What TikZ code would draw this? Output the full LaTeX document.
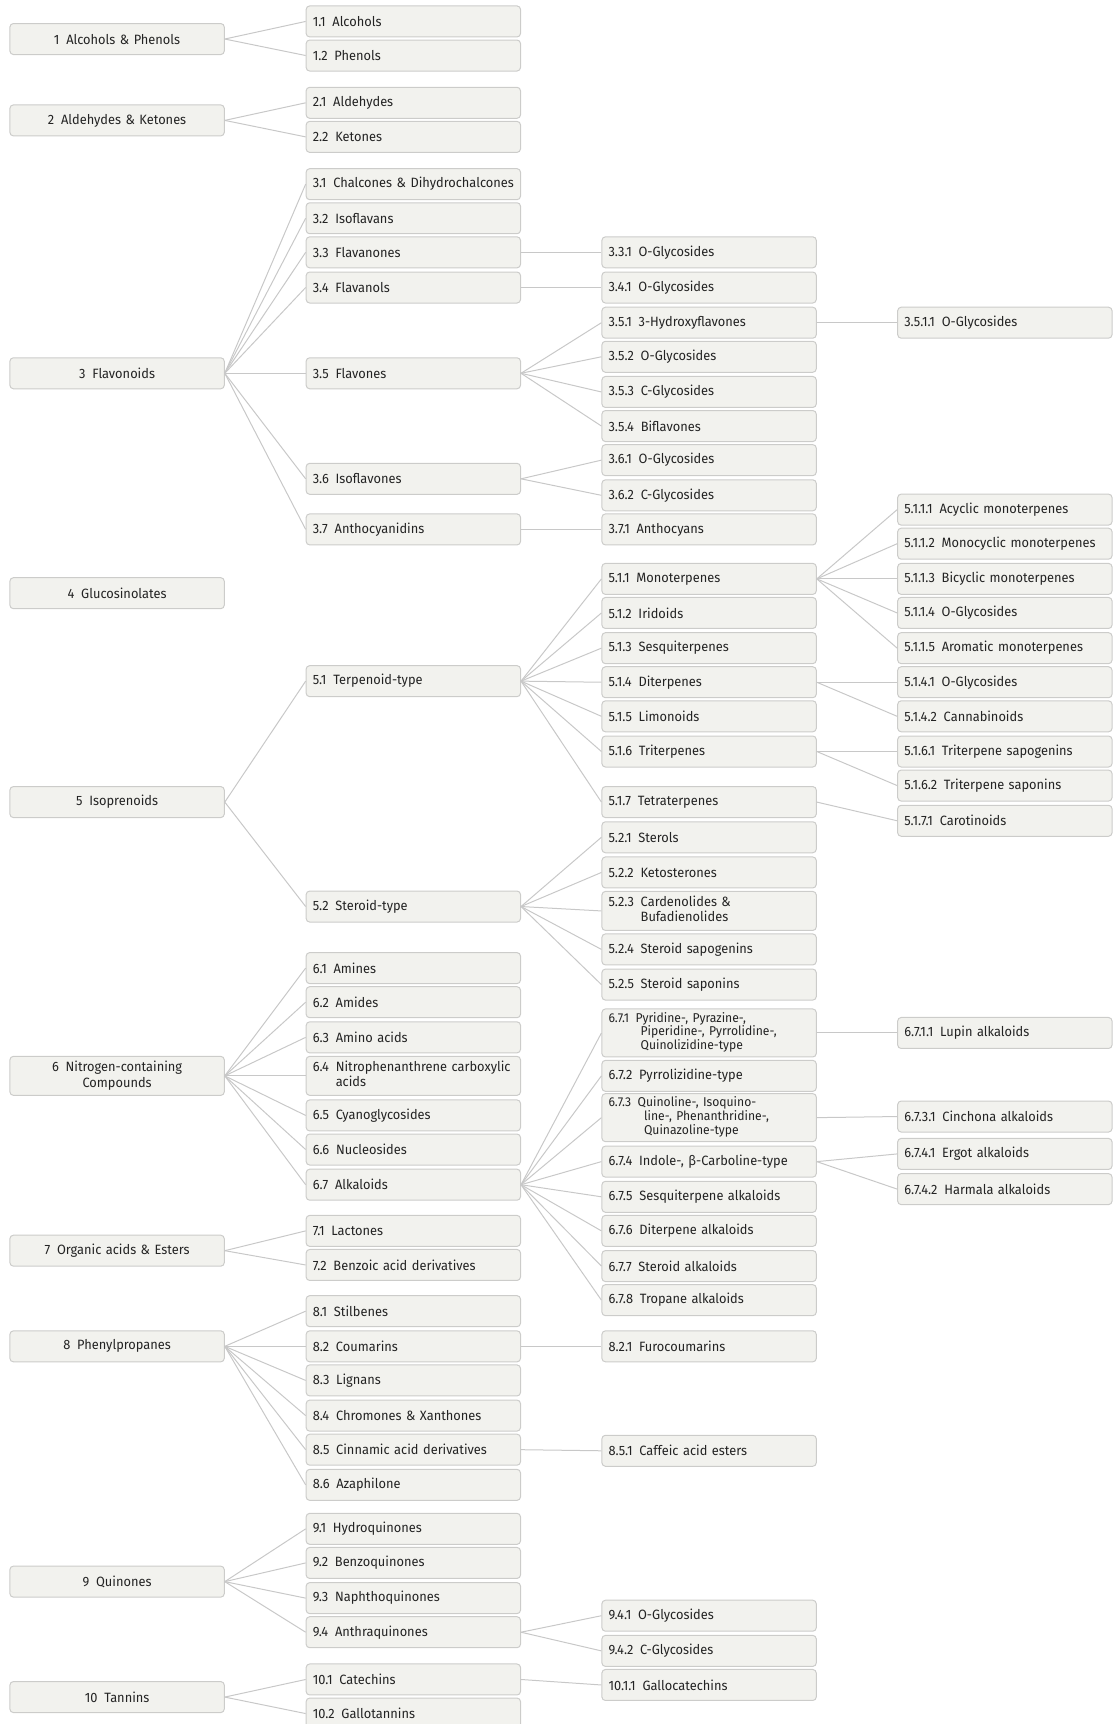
\documentclass[tikz,border=0pt]{standalone}
\usepackage{fontspec}
\setmainfont[FakeStretch=0.95]{Fira Sans}
\definecolor{boxfill}{RGB}{242,242,238}
\definecolor{boxline}{RGB}{204,204,202}
\definecolor{edgecol}{RGB}{200,200,200}
\definecolor{txt}{RGB}{35,35,35}
\newcommand\NB[2]{#1\hspace{0.5em}#2}
\newcommand\NBM[2]{#1\hspace{0.5em}\begin{tabular}[t]{@{}l@{}}#2\end{tabular}}
\hyphenpenalty=10000
\tikzset{
  base/.style={draw=boxline, fill=boxfill, rounded corners=3.5pt, line width=1pt,
    minimum height=31pt, inner ysep=2pt, inner xsep=6.6pt, text=txt,
    text width=201.2pt, font=\fontsize{13.5}{15.4}\selectfont},
  rootbox/.style={base, align=center, anchor=center},
  subbox/.style={base, align=left, anchor=west},
  twol/.style={minimum height=39pt},
  threel/.style={minimum height=48pt, font=\fontsize{12.8}{13.2}\selectfont},
  conn/.style={draw=edgecol, line width=1pt}
}
\begin{document}
\begin{tikzpicture}[x=1.0997pt, y=-1.0997pt]
\useasboundingbox (0,0) rectangle (1013,1568);
\clip (0,0) rectangle (1013,1568);
% column 0
\node[rootbox] (a1) at (106.5,35.5) {\NB{1}{Alcohols \& Phenols}};
\node[rootbox] (a2) at (106.5,109.5) {\NB{2}{Aldehydes \& Ketones}};
\node[rootbox] (a3) at (106.5,339.5) {\NB{3}{Flavonoids}};
\node[rootbox] (a4) at (106.5,539.5) {\NB{4}{Glucosinolates}};
\node[rootbox] (a5) at (106.5,729.5) {\NB{5}{Isoprenoids}};
\node[rootbox, twol] (a6) at (106.5,978.5) {\NB{6}{Nitrogen-containing}\\Compounds};
\node[rootbox] (a7) at (106.5,1137.5) {\NB{7}{Organic acids \& Esters}};
\node[rootbox] (a8) at (106.5,1224.5) {\NB{8}{Phenylpropanes}};
\node[rootbox] (a9) at (106.5,1438.5) {\NB{9}{Quinones}};
\node[rootbox] (a10) at (106.5,1543.5) {\NB{10}{Tannins}};
% column 1
\node[subbox] (b11) at (278,19.5) {\NB{1.1}{Alcohols}};
\node[subbox] (b12) at (278,50.5) {\NB{1.2}{Phenols}};
\node[subbox] (b21) at (278,93.5) {\NB{2.1}{Aldehydes}};
\node[subbox] (b22) at (278,124.5) {\NB{2.2}{Ketones}};
\node[subbox] (b31) at (278,167.5) {\NB{3.1}{Chalcones \& Dihydrochalcones}};
\node[subbox] (b32) at (278,198.5) {\NB{3.2}{Isoflavans}};
\node[subbox] (b33) at (278,229.5) {\NB{3.3}{Flavanones}};
\node[subbox] (b34) at (278,261.5) {\NB{3.4}{Flavanols}};
\node[subbox] (b35) at (278,339.5) {\NB{3.5}{Flavones}};
\node[subbox] (b36) at (278,435.5) {\NB{3.6}{Isoflavones}};
\node[subbox] (b37) at (278,481.5) {\NB{3.7}{Anthocyanidins}};
\node[subbox] (b51) at (278,619.5) {\NB{5.1}{Terpenoid-type}};
\node[subbox] (b52) at (278,824.5) {\NB{5.2}{Steroid-type}};
\node[subbox] (b61) at (278,880.5) {\NB{6.1}{Amines}};
\node[subbox] (b62) at (278,911.5) {\NB{6.2}{Amides}};
\node[subbox] (b63) at (278,943.5) {\NB{6.3}{Amino acids}};
\node[subbox, twol] (b64) at (278,978.5) {\NBM{6.4}{Nitrophenanthrene carboxylic\\acids}};
\node[subbox] (b65) at (278,1014.5) {\NB{6.5}{Cyanoglycosides}};
\node[subbox] (b66) at (278,1045.5) {\NB{6.6}{Nucleosides}};
\node[subbox] (b67) at (278,1077.5) {\NB{6.7}{Alkaloids}};
\node[subbox] (b71) at (278,1119.5) {\NB{7.1}{Lactones}};
\node[subbox] (b72) at (278,1150.5) {\NB{7.2}{Benzoic acid derivatives}};
\node[subbox] (b81) at (278,1192.5) {\NB{8.1}{Stilbenes}};
\node[subbox] (b82) at (278,1224.5) {\NB{8.2}{Coumarins}};
\node[subbox] (b83) at (278,1255.5) {\NB{8.3}{Lignans}};
\node[subbox] (b84) at (278,1287.5) {\NB{8.4}{Chromones \& Xanthones}};
\node[subbox] (b85) at (278,1318.5) {\NB{8.5}{Cinnamic acid derivatives}};
\node[subbox] (b86) at (278,1350.5) {\NB{8.6}{Azaphilone}};
\node[subbox] (b91) at (278,1390.5) {\NB{9.1}{Hydroquinones}};
\node[subbox] (b92) at (278,1421.5) {\NB{9.2}{Benzoquinones}};
\node[subbox] (b93) at (278,1453.5) {\NB{9.3}{Naphthoquinones}};
\node[subbox] (b94) at (278,1484.5) {\NB{9.4}{Anthraquinones}};
\node[subbox] (b101) at (278,1527.5) {\NB{10.1}{Catechins}};
\node[subbox] (b102) at (278,1558.5) {\NB{10.2}{Gallotannins}};
% column 2
\node[subbox] (c331) at (547,229.5) {\NB{3.3.1}{O-Glycosides}};
\node[subbox] (c341) at (547,261.5) {\NB{3.4.1}{O-Glycosides}};
\node[subbox] (c351) at (547,293.5) {\NB{3.5.1}{3-Hydroxyflavones}};
\node[subbox] (c352) at (547,324.5) {\NB{3.5.2}{O-Glycosides}};
\node[subbox] (c353) at (547,356.5) {\NB{3.5.3}{C-Glycosides}};
\node[subbox] (c354) at (547,387.5) {\NB{3.5.4}{Biflavones}};
\node[subbox] (c361) at (547,418.5) {\NB{3.6.1}{O-Glycosides}};
\node[subbox] (c362) at (547,450.5) {\NB{3.6.2}{C-Glycosides}};
\node[subbox] (c371) at (547,481.5) {\NB{3.7.1}{Anthocyans}};
\node[subbox] (c511) at (547,526.5) {\NB{5.1.1}{Monoterpenes}};
\node[subbox] (c512) at (547,557.5) {\NB{5.1.2}{Iridoids}};
\node[subbox] (c513) at (547,589.5) {\NB{5.1.3}{Sesquiterpenes}};
\node[subbox] (c514) at (547,620.5) {\NB{5.1.4}{Diterpenes}};
\node[subbox] (c515) at (547,651.5) {\NB{5.1.5}{Limonoids}};
\node[subbox] (c516) at (547,683.5) {\NB{5.1.6}{Triterpenes}};
\node[subbox] (c517) at (547,729.5) {\NB{5.1.7}{Tetraterpenes}};
\node[subbox] (c521) at (547,761.5) {\NB{5.2.1}{Sterols}};
\node[subbox] (c522) at (547,793.5) {\NB{5.2.2}{Ketosterones}};
\node[subbox, twol] (c523) at (547,828.5) {\NBM{5.2.3}{Cardenolides \&\\Bufadienolides}};
\node[subbox] (c524) at (547,863.5) {\NB{5.2.4}{Steroid sapogenins}};
\node[subbox] (c525) at (547,895.5) {\NB{5.2.5}{Steroid saponins}};
\node[subbox, threel] (c671) at (547,939.5) {\NBM{6.7.1}{Pyridine-, Pyrazine-,\\\hspace{0.4em}Piperidine-, Pyrrolidine-,\\\hspace{0.4em}Quinolizidine-type}};
\node[subbox] (c672) at (547,978.5) {\NB{6.7.2}{Pyrrolizidine-type}};
\node[subbox, threel] (c673) at (547,1016.5) {\NBM{6.7.3}{Quinoline-, Isoquino-\\\hspace{0.5em}line-, Phenanthridine-,\\\hspace{0.5em}Quinazoline-type}};
\node[subbox] (c674) at (547,1056.5) {\NB{6.7.4}{Indole-, β-Carboline-type}};
\node[subbox] (c675) at (547,1088.5) {\NB{6.7.5}{Sesquiterpene alkaloids}};
\node[subbox] (c676) at (547,1119.5) {\NB{6.7.6}{Diterpene alkaloids}};
\node[subbox] (c677) at (547,1151.5) {\NB{6.7.7}{Steroid alkaloids}};
\node[subbox] (c678) at (547,1182.5) {\NB{6.7.8}{Tropane alkaloids}};
\node[subbox] (c821) at (547,1224.5) {\NB{8.2.1}{Furocoumarins}};
\node[subbox] (c851) at (547,1319.5) {\NB{8.5.1}{Caffeic acid esters}};
\node[subbox] (c941) at (547,1469.5) {\NB{9.4.1}{O-Glycosides}};
\node[subbox] (c942) at (547,1501.5) {\NB{9.4.2}{C-Glycosides}};
\node[subbox] (c1011) at (547,1532.5) {\NB{10.1.1}{Gallocatechins}};
% column 3
\node[subbox] (d3511) at (816,293.5) {\NB{3.5.1.1}{O-Glycosides}};
\node[subbox] (d5111) at (816,463.5) {\NB{5.1.1.1}{Acyclic monoterpenes}};
\node[subbox] (d5112) at (816,494.5) {\NB{5.1.1.2}{Monocyclic monoterpenes}};
\node[subbox] (d5113) at (816,526.5) {\NB{5.1.1.3}{Bicyclic monoterpenes}};
\node[subbox] (d5114) at (816,557.5) {\NB{5.1.1.4}{O-Glycosides}};
\node[subbox] (d5115) at (816,589.5) {\NB{5.1.1.5}{Aromatic monoterpenes}};
\node[subbox] (d5141) at (816,620.5) {\NB{5.1.4.1}{O-Glycosides}};
\node[subbox] (d5142) at (816,651.5) {\NB{5.1.4.2}{Cannabinoids}};
\node[subbox] (d5161) at (816,683.5) {\NB{5.1.6.1}{Triterpene sapogenins}};
\node[subbox] (d5162) at (816,714.5) {\NB{5.1.6.2}{Triterpene saponins}};
\node[subbox] (d5171) at (816,746.5) {\NB{5.1.7.1}{Carotinoids}};
\node[subbox] (d6711) at (816,939.5) {\NB{6.7.1.1}{Lupin alkaloids}};
\node[subbox] (d6731) at (816,1015.5) {\NB{6.7.3.1}{Cinchona alkaloids}};
\node[subbox] (d6741) at (816,1049.5) {\NB{6.7.4.1}{Ergot alkaloids}};
\node[subbox] (d6742) at (816,1081.5) {\NB{6.7.4.2}{Harmala alkaloids}};
% connectors
\foreach \p/\c in {a1/b11,a1/b12,a2/b21,a2/b22,
  a3/b31,a3/b32,a3/b33,a3/b34,a3/b35,a3/b36,a3/b37,
  a5/b51,a5/b52,
  a6/b61,a6/b62,a6/b63,a6/b64,a6/b65,a6/b66,a6/b67,
  a7/b71,a7/b72,
  a8/b81,a8/b82,a8/b83,a8/b84,a8/b85,a8/b86,
  a9/b91,a9/b92,a9/b93,a9/b94,
  a10/b101,a10/b102,
  b33/c331,b34/c341,b35/c351,b35/c352,b35/c353,b35/c354,
  b36/c361,b36/c362,b37/c371,
  b51/c511,b51/c512,b51/c513,b51/c514,b51/c515,b51/c516,b51/c517,
  b52/c521,b52/c522,b52/c523,b52/c524,b52/c525,
  b67/c671,b67/c672,b67/c673,b67/c674,b67/c675,b67/c676,b67/c677,b67/c678,
  b82/c821,b85/c851,b94/c941,b94/c942,b101/c1011,
  c351/d3511,
  c511/d5111,c511/d5112,c511/d5113,c511/d5114,c511/d5115,
  c514/d5141,c514/d5142,c516/d5161,c516/d5162,c517/d5171,
  c671/d6711,c673/d6731,c674/d6741,c674/d6742}
  {\draw[conn] (\p.east) -- (\c.west);}
\end{tikzpicture}
\end{document}
